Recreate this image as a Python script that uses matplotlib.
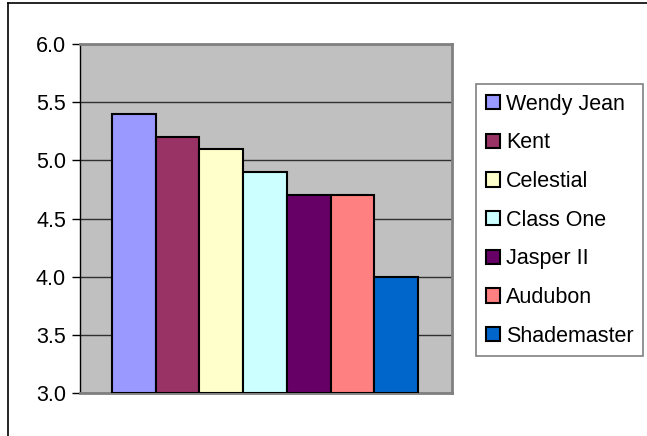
import numpy as np
import matplotlib.pyplot as plt
from matplotlib.lines import Line2D

# data
names = ['Wendy Jean', 'Kent', 'Celestial', 'Class One', 'Jasper II', 'Audubon', 'Shademaster']
values = [5.4, 5.2, 5.1, 4.9, 4.7, 4.7, 4.0]
colors = ['#9999FF', '#993366', '#FFFFCC', '#CCFFFF', '#660066', '#FF8080', '#0066CC']
yticks = [3.0, 3.5, 4.0, 4.5, 5.0, 5.5, 6.0]

plt.rcParams['font.family'] = ['Liberation Sans', 'DejaVu Sans']

fig = plt.figure(figsize=(6.47, 4.36), dpi=100)
ax = fig.add_axes([80 / 647, 1 - 393 / 436, 372 / 647, 349 / 436])
ax.set_facecolor('#C0C0C0')

x = np.arange(len(values))
for i in range(len(values)):
    ax.bar(x[i], values[i] - 3.0, bottom=3.0, width=1.0, color=colors[i],
           edgecolor='black', linewidth=1.5, label=names[i], zorder=3)

ax.set_xlim(-1.232, 7.278)
ax.set_ylim(3.0, 6.0)
ax.set_yticks(yticks)
ax.set_yticklabels(['%.1f' % t for t in yticks], fontsize=15.5)
ax.set_xticks([])
ax.yaxis.grid(True, color='#303030', linewidth=1, zorder=1)
ax.tick_params(axis='y', length=6, width=1, color='black', pad=4)

for s in ['top', 'right', 'bottom']:
    ax.spines[s].set_color('#808080')
    ax.spines[s].set_linewidth(2)
ax.spines['left'].set_color('black')
ax.spines['left'].set_linewidth(1)

leg = ax.legend(loc='upper left', bbox_to_anchor=(476 / 647, 1 - 84 / 436),
                bbox_transform=fig.transFigure, borderaxespad=0, fontsize=15.5,
                frameon=True, fancybox=False, edgecolor='#606060',
                handlelength=0.65, handleheight=0.65, handletextpad=0.3,
                labelspacing=0.82, borderpad=0.45)
leg.get_frame().set_linewidth(1.2)

# outer chart border
fig.add_artist(Line2D([7.5 / 647, 7.5 / 647], [0, 1 - 3 / 436], color='black', linewidth=1.2))
fig.add_artist(Line2D([7.5 / 647, 1], [1 - 3 / 436, 1 - 3 / 436], color='black', linewidth=1.2))

fig.savefig('out.png', dpi=100)
